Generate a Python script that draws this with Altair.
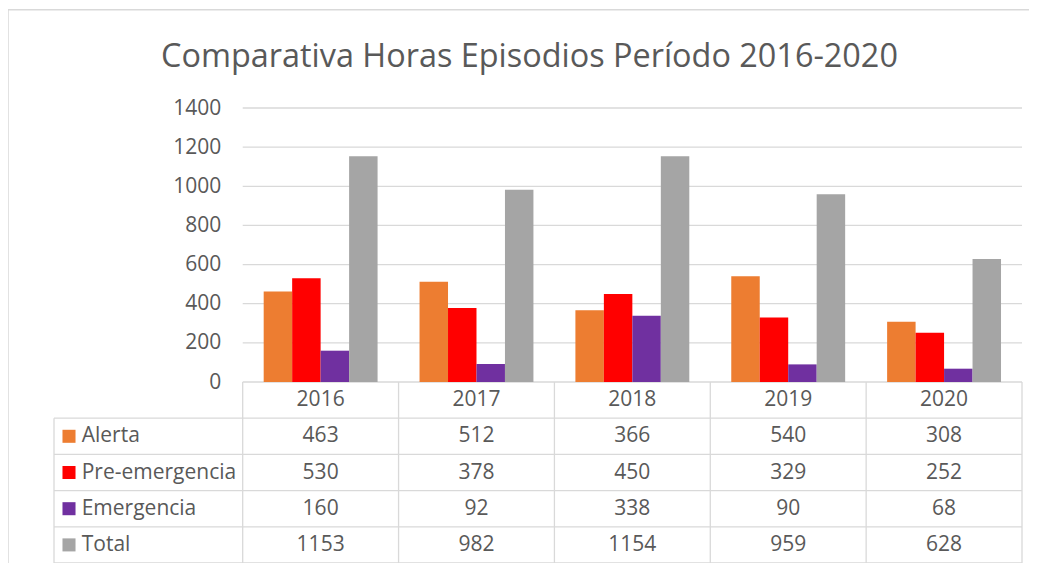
import altair as alt
import pandas as pd

# ---- data ----
years = ["2016", "2017", "2018", "2019", "2020"]
series_order = ["Alerta", "Pre-emergencia", "Emergencia", "Total"]
alerta = [463, 512, 366, 540, 308]
pre_emergencia = [530, 378, 450, 329, 252]
emergencia = [160, 92, 338, 90, 68]
total = [1153, 982, 1154, 959, 628]
y_ticks = [0, 200, 400, 600, 800, 1000, 1200, 1400]
colors = ["#ED7D31", "#FF0000", "#7030A0", "#A5A5A5"]
title_text = "Comparativa Horas Episodios Período 2016-2020"

values_by_series = {
    "Alerta": alerta,
    "Pre-emergencia": pre_emergencia,
    "Emergencia": emergencia,
    "Total": total,
}
rows = []
for s in series_order:
    for yr, v in zip(years, values_by_series[s]):
        rows.append({"year": yr, "series": s, "value": v})
df = pd.DataFrame(rows)
ticks_df = pd.DataFrame({"value": y_ticks})
header_df = pd.DataFrame({"year": years, "series": ["header"] * len(years)})
labels_df = pd.DataFrame({"series": series_order})

# ---- layout constants (pixels, local to plot area) ----
W = 968.0
H = 455.0
BAR_LEFT = 188.7
BAR_H = 274.0
GRID = "#D9D9D9"
TXT = "#595959"
FONT = "Open Sans"
FS = 21

x_scale = alt.Scale(domain=years, range=[BAR_LEFT, W], paddingInner=0, paddingOuter=0)
y_bar_scale = alt.Scale(domain=[0, 1400], range=[BAR_H, 0], nice=False, zero=True)
row_domain = ["header"] + series_order
row_scale = alt.Scale(domain=row_domain, range=[BAR_H, H], paddingInner=0, paddingOuter=0)
color_scale = alt.Scale(domain=series_order, range=colors)

# ---- bar section ----
grid = alt.Chart(ticks_df).mark_rule(color=GRID, strokeWidth=1.3).encode(
    y=alt.Y("value:Q", scale=y_bar_scale,
            axis=alt.Axis(values=y_ticks, format="d", grid=False, domain=False, ticks=False,
                          labelFontSize=FS, labelColor=TXT, labelFont=FONT,
                          labelPadding=22, offset=-BAR_LEFT, title=None)),
    x=alt.value(BAR_LEFT),
    x2=alt.value(W),
)

bars = alt.Chart(df).mark_bar().encode(
    x=alt.X("year:N", scale=x_scale, axis=None, sort=years),
    xOffset=alt.XOffset("series:N", sort=series_order,
                        scale=alt.Scale(domain=series_order, paddingInner=0, paddingOuter=0.737)),
    y=alt.Y("value:Q", scale=y_bar_scale),
    color=alt.Color("series:N", scale=color_scale, legend=None),
)

bar_group = alt.layer(grid, bars)

# ---- data table section ----
hlines = alt.Chart(labels_df).mark_rule(color=GRID, strokeWidth=1.3).encode(
    y=alt.Y("series:N", scale=row_scale, axis=None, bandPosition=0),
    x=alt.value(0),
    x2=alt.value(W),
)
bottom_line = alt.Chart(pd.DataFrame({"series": ["Total"]})).mark_rule(color=GRID, strokeWidth=1.3).encode(
    y=alt.Y("series:N", scale=row_scale, axis=None, bandPosition=1),
    x=alt.value(0),
    x2=alt.value(W),
)
vlines = alt.Chart(pd.DataFrame({"year": years})).mark_rule(color=GRID, strokeWidth=1.3).encode(
    x=alt.X("year:N", scale=x_scale, axis=None, bandPosition=0),
    y=alt.value(BAR_H),
    y2=alt.value(H),
)
right_line = alt.Chart(pd.DataFrame({"year": ["2020"]})).mark_rule(color=GRID, strokeWidth=1.3).encode(
    x=alt.X("year:N", scale=x_scale, axis=None, bandPosition=1),
    y=alt.value(BAR_H),
    y2=alt.value(H),
)
left_line = alt.Chart(pd.DataFrame({"series": ["Alerta"]})).mark_rule(color=GRID, strokeWidth=1.3).encode(
    y=alt.Y("series:N", scale=row_scale, axis=None, bandPosition=0),
    y2=alt.value(H),
    x=alt.value(0),
)
header_text = alt.Chart(header_df).mark_text(fontSize=FS, color=TXT, font=FONT, baseline="middle").encode(
    x=alt.X("year:N", scale=x_scale, axis=None, bandPosition=0.5),
    y=alt.Y("series:N", scale=row_scale, axis=None, bandPosition=0.5),
    text="year:N",
)
cell_text = alt.Chart(df).mark_text(fontSize=FS, color=TXT, font=FONT, baseline="middle").encode(
    x=alt.X("year:N", scale=x_scale, axis=None, bandPosition=0.5),
    y=alt.Y("series:N", scale=row_scale, axis=None, bandPosition=0.5),
    text="value:Q",
)
squares = alt.Chart(labels_df).mark_square(size=170, opacity=1).encode(
    x=alt.value(15),
    y=alt.Y("series:N", scale=row_scale, axis=None, bandPosition=0.5),
    color=alt.Color("series:N", scale=color_scale, legend=None),
)
row_labels = alt.Chart(labels_df).mark_text(fontSize=FS, color=TXT, font=FONT, align="left",
                                           baseline="middle").encode(
    x=alt.value(27.7),
    y=alt.Y("series:N", scale=row_scale, axis=None, bandPosition=0.5),
    text="series:N",
)
table_group = alt.layer(hlines, bottom_line, vlines, right_line, left_line,
                        header_text, cell_text, squares, row_labels)

# ---- outer chart frame (only left and top edges are on screen) ----
frame_df = pd.DataFrame({"a": [0]})
frame_top = alt.Chart(frame_df).mark_rule(color=GRID, strokeWidth=1.5).encode(
    x=alt.value(-46), x2=alt.value(W + 40), y=alt.value(-98.3),
)
frame_left = alt.Chart(frame_df).mark_rule(color=GRID, strokeWidth=1.5).encode(
    x=alt.value(-46), y=alt.value(-98.3), y2=alt.value(H + 40),
)

chart = alt.layer(frame_top, frame_left, bar_group, table_group).resolve_scale(y="independent").properties(
    width=W,
    height=H,
    padding={"left": 46, "top": 100, "right": 7, "bottom": 0},
    autosize=alt.AutoSizeParams(type="none"),
    title=alt.TitleParams(title_text, fontSize=32.4, font=FONT, color=TXT, fontWeight="normal",
                          anchor="middle", frame="group", dx=-8.5, offset=-90,
                          baseline="alphabetic"),
).configure(font=FONT).configure_view(stroke=None, strokeWidth=0)

chart.save("out.html", embed_options={"renderer": "svg", "actions": False})
